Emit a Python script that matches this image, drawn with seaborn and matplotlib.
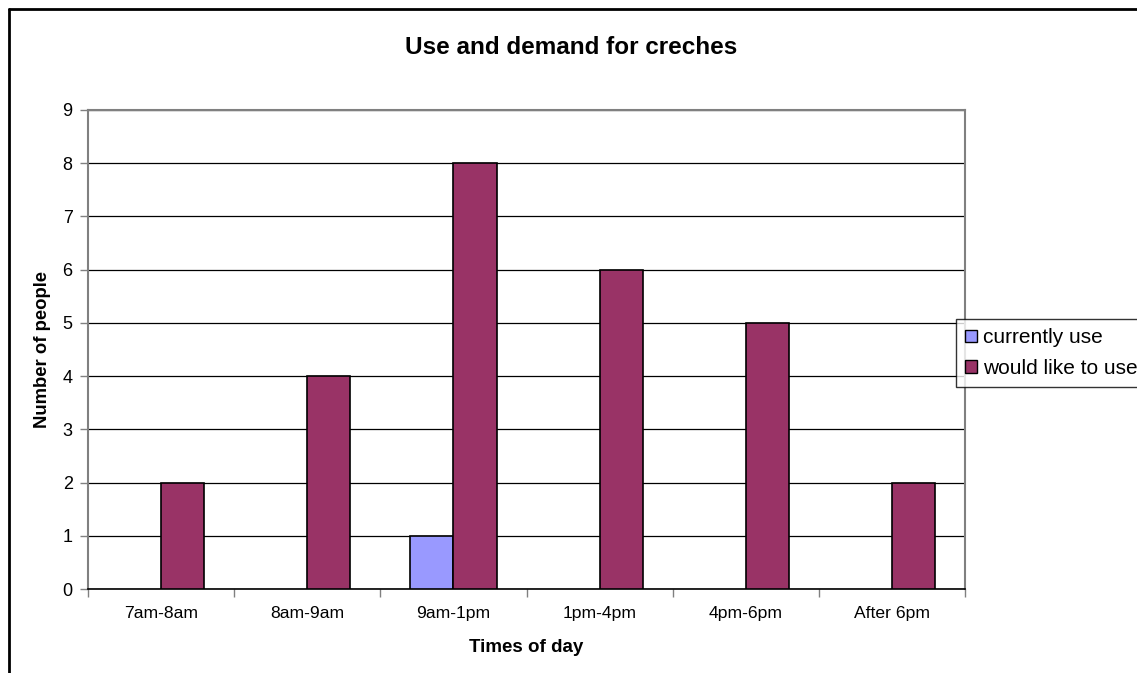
import pandas as pd
import matplotlib
matplotlib.use('Agg')
import matplotlib.pyplot as plt
from matplotlib.lines import Line2D
import seaborn as sns

# Données
times = ['7am-8am', '8am-9am', '9am-1pm', '1pm-4pm', '4pm-6pm', 'After 6pm']
currently_use = [0, 0, 1, 0, 0, 0]
would_like = [2, 4, 8, 6, 5, 2]
series = ['currently use', 'would like to use']
colors = ['#9999FF', '#993366']

df = pd.DataFrame({
    'time': times * 2,
    'count': currently_use + would_like,
    'series': [series[0]] * len(times) + [series[1]] * len(times),
})

sns.set_style('white')
plt.rcParams['font.family'] = ['Liberation Sans', 'DejaVu Sans']
plt.rcParams['text.color'] = 'black'
plt.rcParams['axes.labelcolor'] = 'black'

fig = plt.figure(figsize=(11.37, 6.73), dpi=100)
ax = fig.add_axes([88 / 1137, 1 - 589 / 673, (965 - 88) / 1137, (589 - 110) / 673])

sns.barplot(data=df, x='time', y='count', hue='series', palette=colors, saturation=1,
            width=0.59, edgecolor='black', linewidth=1.2, ax=ax, zorder=3, legend=False)

# pas de contour pour les barres à zéro
for p in ax.patches:
    if p.get_height() == 0:
        p.set_linewidth(0)

ax.set_ylim(0, 9)
ax.set_xlim(-0.5, len(times) - 0.5)
ax.set_yticks(range(10))
ax.yaxis.grid(True, color='black', linewidth=0.9, zorder=0)
ax.set_axisbelow(True)

for side in ['left', 'top', 'right']:
    ax.spines[side].set_color('#808080')
    ax.spines[side].set_linewidth(1.5)
ax.spines['bottom'].set_color('black')
ax.spines['bottom'].set_linewidth(1.2)

# ticks x aux limites des catégories
ax.set_xticks([i + 0.5 for i in range(-1, len(times))], minor=True)
ax.set_xticks(range(len(times)))
ax.set_xticklabels(times)
ax.tick_params(axis='x', which='major', length=0, pad=12, labelsize=12.6, labelcolor='black')
ax.tick_params(axis='x', which='minor', length=6, width=1, color='#808080', bottom=True)
ax.tick_params(axis='y', length=6, width=1, color='#808080', left=True, labelsize=13, pad=5,
               labelcolor='black')

ax.set_xlabel('Times of day', fontsize=13.5, fontweight='bold', labelpad=13)
ax.set_ylabel('Number of people', fontsize=13.3, fontweight='bold', labelpad=8)
fig.suptitle('Use and demand for creches', fontsize=17.5, fontweight='bold',
             x=571 / 1137, y=1 - 47 / 673, va='center')

handles = [plt.Rectangle((0, 0), 1, 1, facecolor=c, edgecolor='black', linewidth=1) for c in colors]
leg = fig.legend(handles, series, loc='upper left', bbox_to_anchor=(956 / 1137, 1 - 319 / 673),
                 frameon=True, fancybox=False, edgecolor='black', fontsize=15,
                 handlelength=0.55, handleheight=0.55, handletextpad=0.3, borderpad=0.45,
                 labelspacing=0.55, borderaxespad=0)
leg.get_frame().set_linewidth(1)

# cadre extérieur (coupé à droite et en bas)
fig.add_artist(Line2D([9 / 1137, 9 / 1137], [0, 1 - 9 / 673], color='black', linewidth=2, transform=fig.transFigure))
fig.add_artist(Line2D([9 / 1137, 1], [1 - 9 / 673, 1 - 9 / 673], color='black', linewidth=2, transform=fig.transFigure))

fig.savefig('out.png', dpi=100)
